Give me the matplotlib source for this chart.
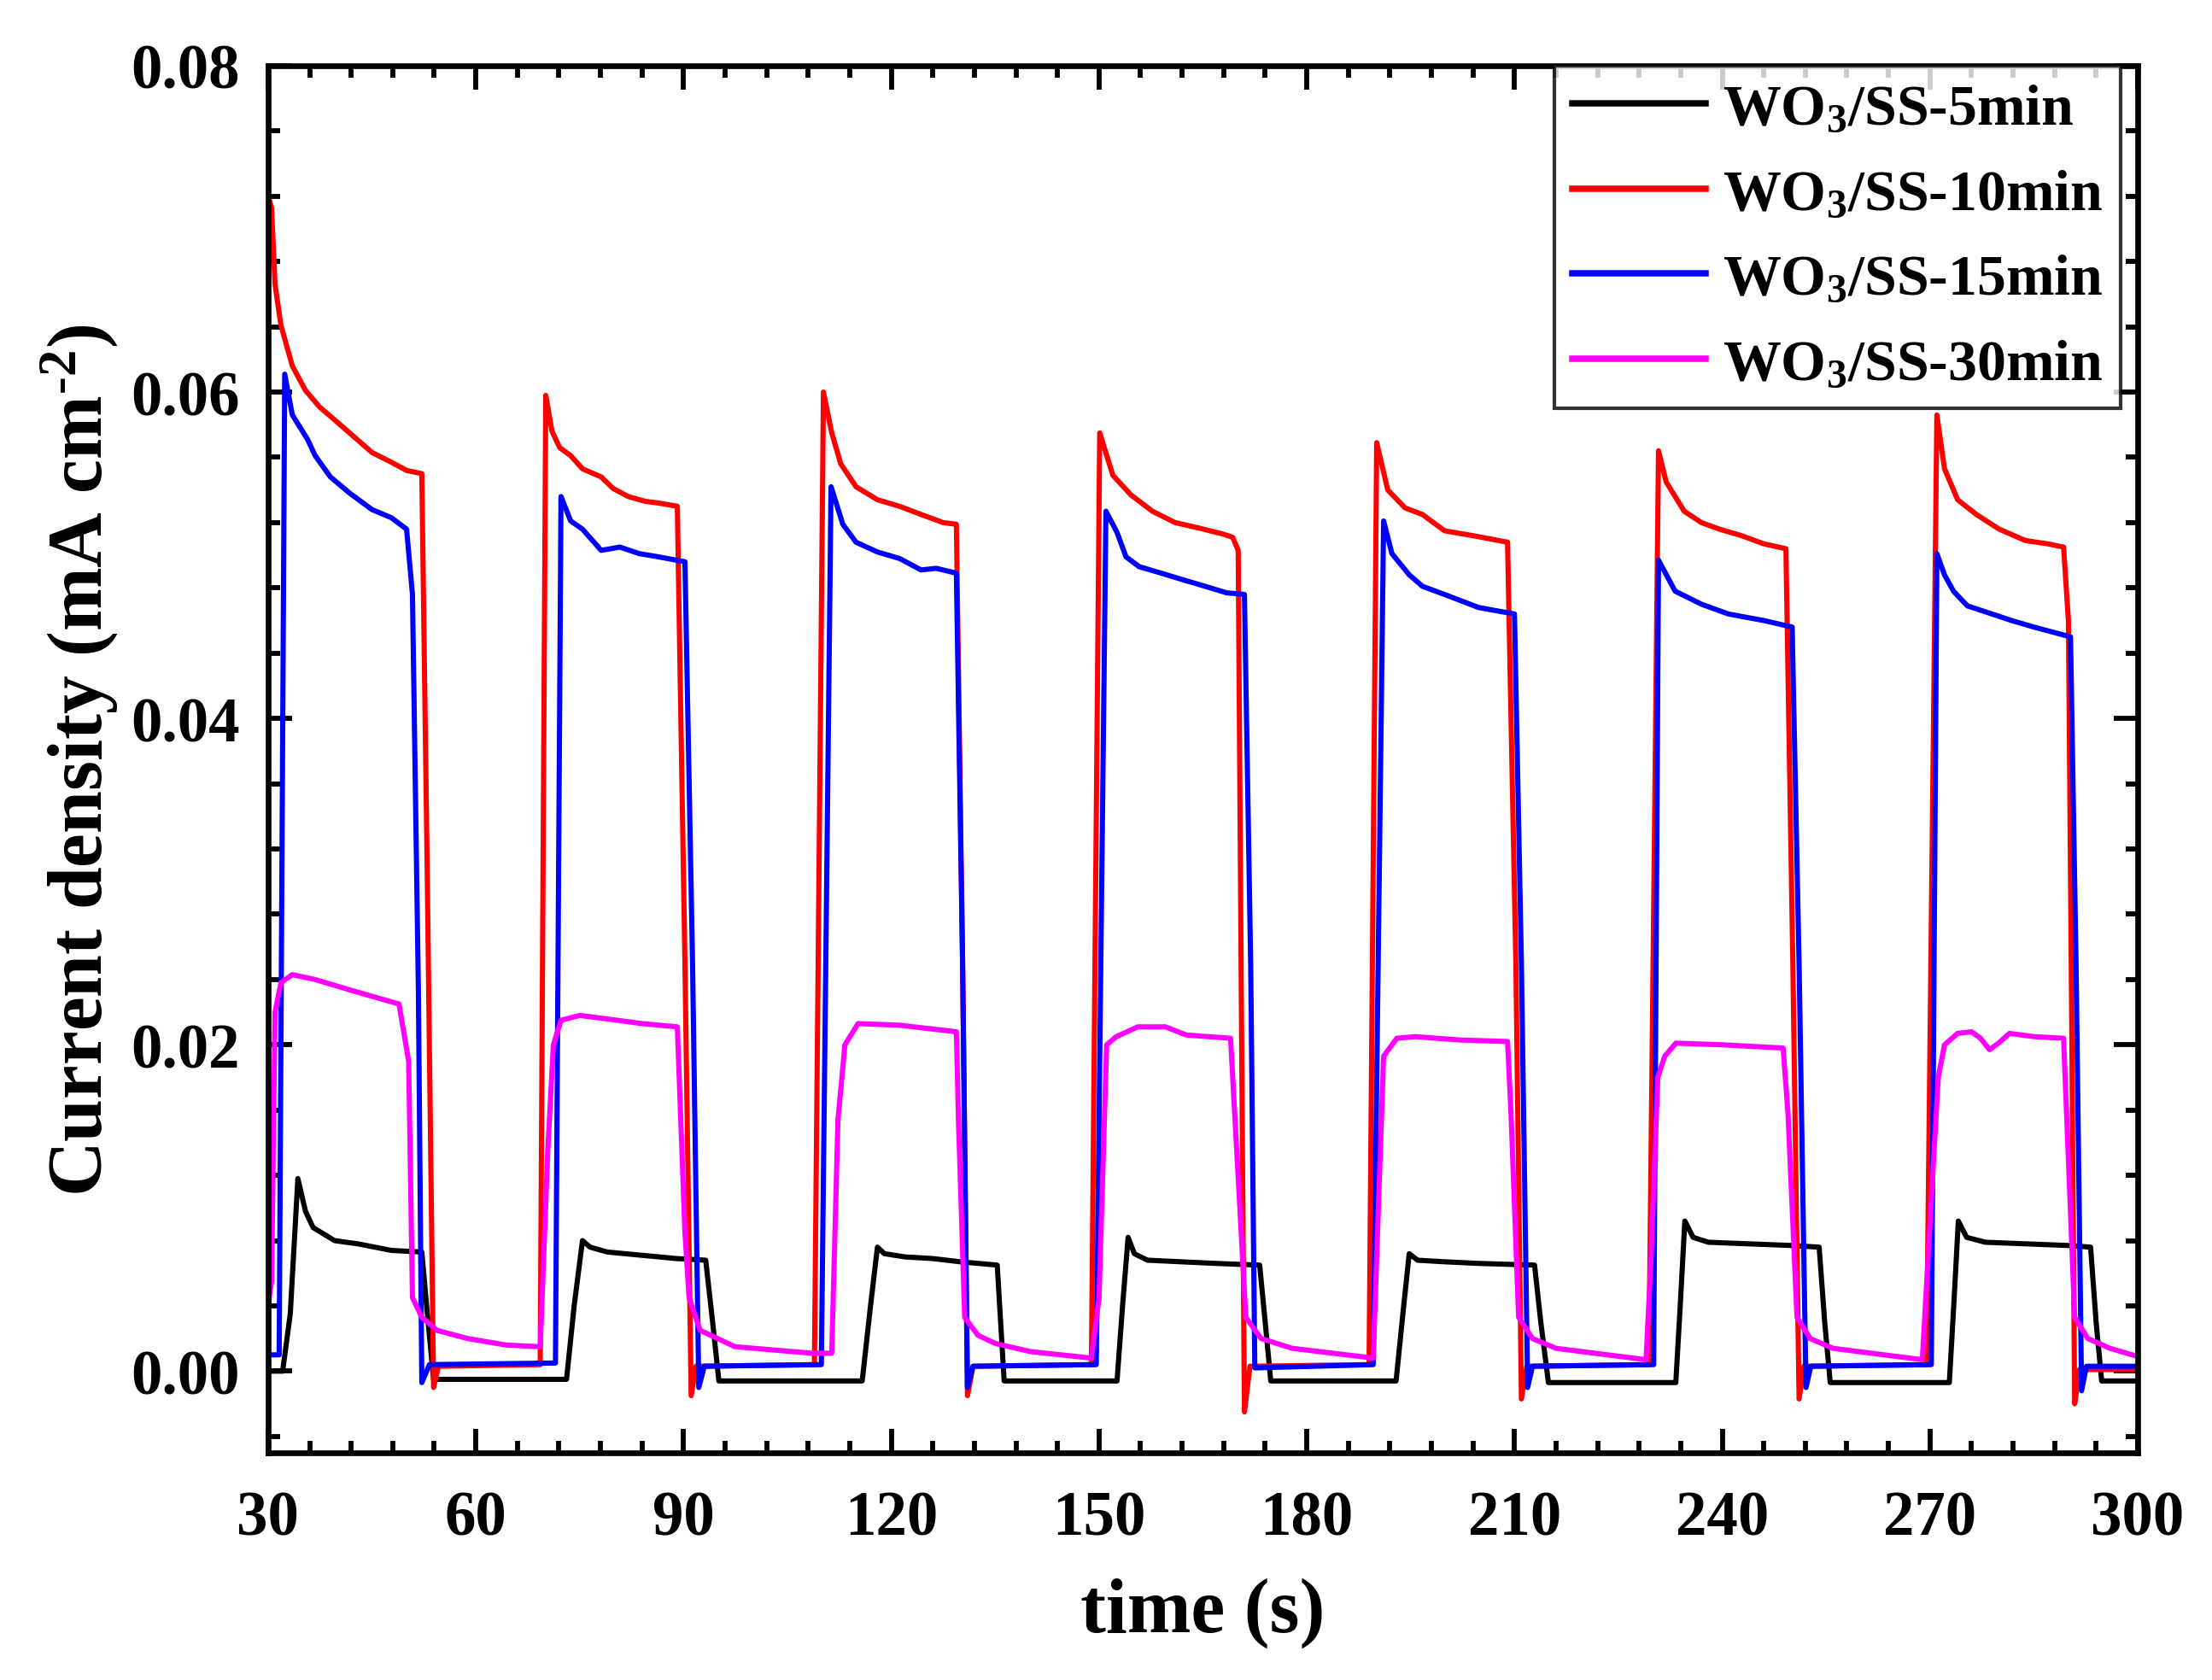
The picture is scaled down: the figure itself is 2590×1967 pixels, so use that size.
import matplotlib
matplotlib.use("Agg")
import matplotlib.pyplot as plt
from matplotlib.ticker import MultipleLocator, FormatStrFormatter

# ---- data (time in s, current density in mA cm^-2) ----
ss_5min = [
    (30.0, 0.0000), (32.1, 0.0000), (33.2, 0.0035), (34.3, 0.0118), (35.4, 0.0098),
    (36.5, 0.0088), (39.6, 0.0080), (43.0, 0.0078), (47.8, 0.0074), (52.2, 0.0073),
    (53.0, 0.0035), (53.9, -0.0005), (60.0, -0.0005), (73.1, -0.0005), (74.2, 0.0040),
    (75.4, 0.0080), (76.5, 0.0076), (79.0, 0.0073), (84.0, 0.0071), (89.0, 0.0069),
    (93.2, 0.0068), (94.2, 0.0030), (95.1, -0.0006), (100.0, -0.0006), (115.8, -0.0006),
    (117.0, 0.0040), (118.0, 0.0076), (119.0, 0.0072), (122.0, 0.0070), (126.0, 0.0069),
    (130.0, 0.0067), (135.3, 0.0065), (136.3, -0.0006), (145.0, -0.0006), (152.6, -0.0006),
    (153.4, 0.0040), (154.2, 0.0082), (155.1, 0.0072), (157.0, 0.0068), (162.0, 0.0067),
    (167.0, 0.0066), (173.2, 0.0065), (174.0, 0.0030), (174.8, -0.0006), (185.0, -0.0006),
    (192.9, -0.0006), (194.0, 0.0040), (194.8, 0.0072), (196.0, 0.0068), (200.0, 0.0067),
    (205.0, 0.0066), (212.9, 0.0065), (213.8, 0.0030), (214.9, -0.0007), (225.0, -0.0007),
    (233.3, -0.0007), (234.0, 0.0045), (234.6, 0.0092), (235.8, 0.0082), (238.0, 0.0079),
    (244.0, 0.0078), (250.0, 0.0077), (254.0, 0.0076), (254.8, 0.0030), (255.6, -0.0007),
    (265.0, -0.0007), (272.8, -0.0007), (273.5, 0.0045), (274.1, 0.0092), (275.3, 0.0082),
    (278.0, 0.0079), (284.0, 0.0078), (290.0, 0.0077), (293.2, 0.0076), (294.0, 0.0030),
    (294.8, -0.0006), (300.0, -0.0006),
]

ss_10min = [
    (30.0, 0.0720), (30.5, 0.0713), (31.0, 0.0666), (31.85, 0.0641), (33.5, 0.0616),
    (35.4, 0.0601), (37.4, 0.0591), (39.6, 0.0583), (42.3, 0.0573), (45.0, 0.0563),
    (47.8, 0.0557), (50.0, 0.0552), (52.2, 0.0550), (53.0, 0.0300), (53.9, -0.0010),
    (54.6, 0.0003), (69.3, 0.0004), (70.1, 0.0598), (71.0, 0.0576), (72.1, 0.0566),
    (73.7, 0.0561), (75.4, 0.0553), (78.1, 0.0548), (79.8, 0.0541), (82.0, 0.0536),
    (84.5, 0.0533), (86.4, 0.0532), (89.1, 0.0530), (90.2, 0.0250), (91.1, -0.0015),
    (91.8, 0.0003), (108.9, 0.0004), (110.2, 0.0600), (111.4, 0.0575), (112.7, 0.0556),
    (114.9, 0.0542), (118.0, 0.0534), (121.2, 0.0530), (124.3, 0.0525), (127.5, 0.0520),
    (129.4, 0.0519), (130.3, 0.0250), (131.0, -0.0015), (131.8, 0.0003), (148.9, 0.0004),
    (150.1, 0.0575), (152.0, 0.0549), (154.6, 0.0537), (157.7, 0.0527), (161.0, 0.0520),
    (164.1, 0.0517), (167.9, 0.0513), (169.3, 0.0511), (170.1, 0.0503), (170.6, 0.0200),
    (171.0, -0.0025), (171.8, 0.0003), (189.0, 0.0004), (190.1, 0.0569), (191.7, 0.0540),
    (194.2, 0.0529), (196.7, 0.0525), (199.9, 0.0515), (204.0, 0.0512), (209.0, 0.0508),
    (210.2, 0.0250), (211.0, -0.0017), (211.8, 0.0003), (229.4, 0.0004), (230.8, 0.0564),
    (231.9, 0.0545), (234.5, 0.0527), (237.0, 0.0520), (239.6, 0.0516), (242.8, 0.0512),
    (246.0, 0.0507), (249.2, 0.0504), (250.2, 0.0250), (251.1, -0.0017), (251.8, 0.0003),
    (269.5, 0.0004), (271.0, 0.0586), (272.1, 0.0553), (274.0, 0.0534), (276.7, 0.0525),
    (280.0, 0.0516), (283.8, 0.0509), (287.0, 0.0507), (289.3, 0.0505), (290.0, 0.0460),
    (290.5, 0.0200), (290.9, -0.0020), (291.6, 0.0001), (300.0, 0.0001),
]

ss_15min = [
    (30.0, 0.0010), (31.6, 0.0010), (32.4, 0.0611), (33.5, 0.0586), (35.7, 0.0571),
    (36.8, 0.0561), (39.0, 0.0548), (41.8, 0.0538), (45.0, 0.0528), (47.8, 0.0523),
    (50.0, 0.0516), (50.85, 0.0476), (51.7, 0.0235), (52.2, -0.0007), (53.3, 0.0004),
    (71.5, 0.0005), (72.3, 0.0536), (73.7, 0.0521), (75.4, 0.0516), (78.1, 0.0503),
    (80.8, 0.0505), (83.6, 0.0501), (86.4, 0.0499), (90.2, 0.0496), (91.3, 0.0250),
    (92.2, -0.0010), (93.0, 0.0003), (109.9, 0.0004), (111.3, 0.0542), (113.0, 0.0519),
    (114.9, 0.0508), (118.0, 0.0502), (121.2, 0.0498), (124.3, 0.0491), (126.5, 0.0492),
    (129.4, 0.0489), (130.3, 0.0250), (131.0, -0.0010), (131.8, 0.0003), (149.6, 0.0004),
    (151.0, 0.0527), (152.6, 0.0514), (153.9, 0.0499), (155.8, 0.0493), (159.0, 0.0489),
    (162.1, 0.0485), (165.3, 0.0481), (168.4, 0.0477), (171.0, 0.0476), (171.9, 0.0250),
    (172.5, 0.0002), (189.6, 0.0004), (191.1, 0.0521), (192.3, 0.0501), (194.8, 0.0488),
    (196.7, 0.0481), (200.5, 0.0475), (204.8, 0.0468), (210.0, 0.0464), (211.0, 0.0250),
    (211.9, -0.0010), (212.6, 0.0003), (230.1, 0.0004), (230.8, 0.0497), (233.2, 0.0478),
    (237.0, 0.0470), (240.9, 0.0464), (246.0, 0.0460), (250.1, 0.0456), (251.1, 0.0250),
    (252.1, -0.0010), (252.8, 0.0003), (270.2, 0.0004), (271.0, 0.0501), (272.1, 0.0488),
    (273.4, 0.0478), (275.4, 0.0469), (281.8, 0.0460), (285.0, 0.0456), (290.3, 0.0450),
    (291.1, 0.0250), (291.9, -0.0012), (292.6, 0.0003), (300.0, 0.0003),
]

ss_30min = [
    (30.0, 0.0040), (30.5, 0.0055), (31.0, 0.0220), (31.85, 0.0238), (33.5, 0.0243),
    (36.8, 0.0240), (42.3, 0.0233), (48.9, 0.0225), (50.3, 0.0190), (50.85, 0.0045),
    (52.2, 0.0033), (54.4, 0.0025), (58.8, 0.0020), (64.4, 0.0016), (69.3, 0.0015),
    (70.4, 0.0136), (71.2, 0.0200), (72.3, 0.0215), (75.0, 0.0218), (78.7, 0.0216),
    (84.0, 0.0213), (89.1, 0.0211), (90.2, 0.0085), (90.8, 0.0045), (92.4, 0.0025),
    (97.4, 0.0015), (108.5, 0.0011), (111.4, 0.0011), (112.3, 0.0154), (113.3, 0.0200),
    (115.2, 0.0213), (121.2, 0.0212), (129.4, 0.0208), (129.7, 0.0154), (130.6, 0.0033),
    (132.5, 0.0022), (135.0, 0.0017), (140.1, 0.0012), (148.9, 0.0008), (150.0, 0.0045),
    (151.1, 0.0200), (152.5, 0.0205), (155.6, 0.0211), (159.6, 0.0211), (162.6, 0.0206),
    (169.0, 0.0204), (170.3, 0.0103), (171.2, 0.0033), (173.4, 0.0020), (177.9, 0.0014),
    (189.6, 0.0008), (191.1, 0.0193), (193.0, 0.0204), (195.6, 0.0205), (202.0, 0.0203),
    (209.0, 0.0202), (209.5, 0.0158), (210.6, 0.0033), (212.6, 0.0020), (216.0, 0.0014),
    (229.0, 0.0007), (229.7, 0.0067), (230.7, 0.0180), (231.7, 0.0193), (233.3, 0.0201),
    (240.0, 0.0200), (248.8, 0.0198), (249.5, 0.0158), (250.8, 0.0033), (252.7, 0.0020),
    (256.0, 0.0014), (268.9, 0.0007), (271.2, 0.0180), (272.1, 0.0200), (274.0, 0.0207),
    (276.0, 0.0208), (277.3, 0.0204), (278.6, 0.0197), (279.9, 0.0201), (281.5, 0.0207),
    (285.0, 0.0205), (289.3, 0.0204), (290.9, 0.0033), (292.8, 0.0020), (296.0, 0.0014),
    (300.0, 0.0009),
]

series = [ss_5min, ss_10min, ss_15min, ss_30min]
labels = [r"WO$_{\mathbf{3}}$/SS-5min", r"WO$_{\mathbf{3}}$/SS-10min",
          r"WO$_{\mathbf{3}}$/SS-15min", r"WO$_{\mathbf{3}}$/SS-30min"]
colors = ["black", "red", "blue", "magenta"]

# ---- style ----
plt.rcParams["font.family"] = ["Liberation Serif", "DejaVu Serif"]
plt.rcParams["font.weight"] = "bold"
plt.rcParams["mathtext.fontset"] = "custom"
plt.rcParams["mathtext.rm"] = "Liberation Serif:bold"
plt.rcParams["mathtext.bf"] = "Liberation Serif:bold"
plt.rcParams["mathtext.it"] = "Liberation Serif:bold"

fig = plt.figure(figsize=(2590 / 300, 1968 / 300), dpi=300)
ax = fig.add_axes([0.1212, 0.1352, 0.8452, 0.8252])

for data, lab, col in zip(series, labels, colors):
    t = [p[0] for p in data]
    j = [p[1] for p in data]
    ax.plot(t, j, color=col, lw=1.45, label=lab)

ax.set_xlim(30, 300)
ax.set_ylim(-0.005, 0.08)
ax.xaxis.set_major_locator(MultipleLocator(30))
ax.xaxis.set_minor_locator(MultipleLocator(6))
ax.yaxis.set_major_locator(MultipleLocator(0.02))
ax.yaxis.set_minor_locator(MultipleLocator(0.004))
ax.yaxis.set_major_formatter(FormatStrFormatter("%.2f"))

ax.tick_params(which="both", direction="in", top=True, right=True, width=1.4)
ax.tick_params(which="major", length=6.7, labelsize=17.5)
ax.tick_params(axis="x", which="major", pad=10.5)
ax.tick_params(axis="y", which="major", pad=8)
ax.tick_params(which="minor", length=3.3)
for s in ax.spines.values():
    s.set_linewidth(1.6)

ax.set_xlabel("time (s)", fontsize=21.5, fontweight="bold", labelpad=8)
ax.set_ylabel(r"Current density (mA cm$^{\mathbf{\text{-}2}}$)", fontsize=21.5,
              fontweight="bold", labelpad=3)

leg = ax.legend(loc="upper right", bbox_to_anchor=(0.991, 1.0), borderaxespad=0,
                fontsize=16.3, frameon=True, fancybox=False, handlelength=2.3,
                handletextpad=0.3, labelspacing=0.56, borderpad=0.3)
leg.get_frame().set_edgecolor("black")
leg.get_frame().set_linewidth(1.0)
for h in leg.get_lines():
    h.set_linewidth(1.8)

fig.savefig("out.png", dpi=300)
